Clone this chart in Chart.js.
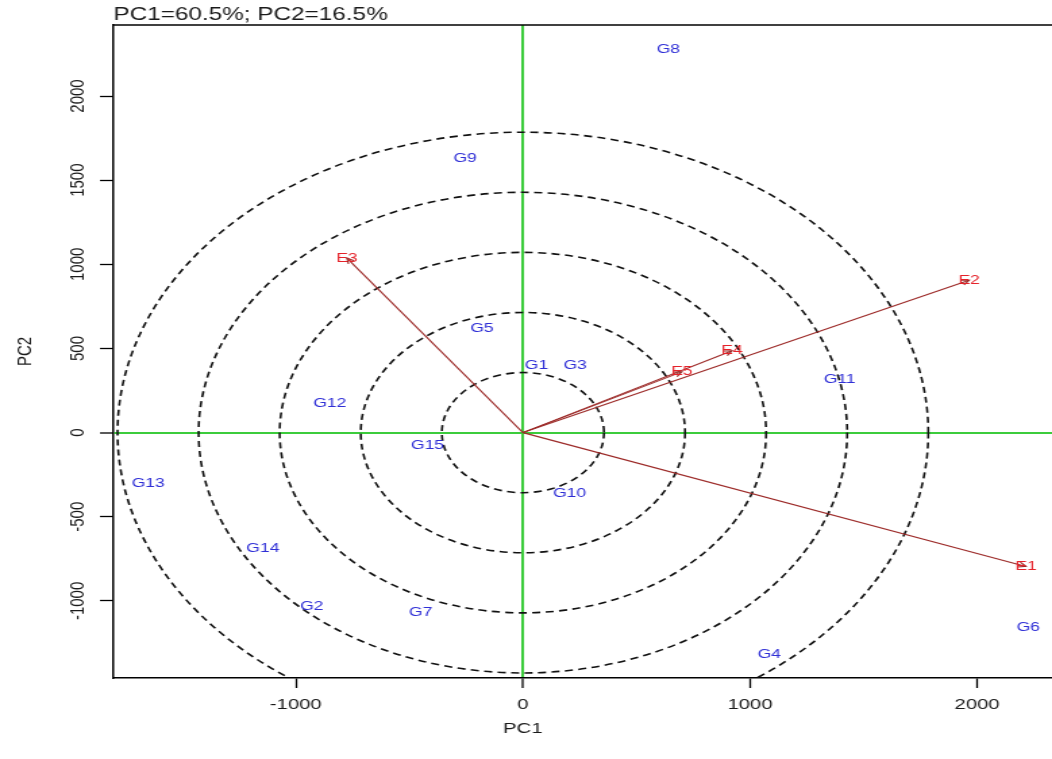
<!DOCTYPE html>
<html><head><meta charset="utf-8">
<script src="https://cdn.jsdelivr.net/npm/chart.js@4.4.0/dist/chart.umd.min.js"></script>
<style>
html,body{margin:0;padding:0;background:#fff;overflow:hidden}
#wrap{width:1052px;height:759px;overflow:hidden;position:relative;background:#fff}
#c{position:absolute;left:0;top:0;transform-origin:0 0;transform:scaleX(1.3505)}
</style></head><body>
<div id="wrap"><canvas id="c" width="779" height="759"></canvas></div>
<script>
// ---- data ----
const chartTitle = 'PC1=60.5%; PC2=16.5%';
const xAxisTitle = 'PC1';
const yAxisTitle = 'PC2';
const genotypes = ['G1','G2','G3','G4','G5','G6','G7','G8','G9','G10','G11','G12','G13','G14','G15'];
const genoPC1 = [60, -930, 230, 1085, -180, 2225, -450, 640, -255, 205, 1395, -850, -1650, -1145, -420];
const genoPC2 = [400, -1030, 400, -1320, 620, -1155, -1070, 2275, 1630, -360, 315, 175, -300, -690, -75];
const environments = ['E1','E2','E3','E4','E5'];
const envPC1 = [2215, 1965, -775, 921, 700];
const envPC2 = [-795, 905, 1037, 486, 361];
const circleRadii = [357, 714, 1071, 1428, 1785];
const xTicks = [-1000, 0, 1000, 2000];
const yTicks = [-1000, -500, 0, 500, 1000, 1500, 2000];

const FONT = "'Liberation Sans', Arial, sans-serif";
const GREEN = '#3ccc3c';
const BLUE = '#2f2fd6';
const RED = '#e5222a';
const BROWN = '#9c2a28';

const datasets = [{
  kind: 'geno',
  data: genotypes.map((g, i) => ({x: genoPC1[i], y: genoPC2[i]})),
  pointRadius: 0, showLine: false
}];
environments.forEach((e, i) => {
  datasets.push({
    kind: 'env', name: e,
    data: [{x: 0, y: 0}, {x: envPC1[i], y: envPC2[i]}],
    showLine: true, borderColor: BROWN, borderWidth: 1.1, pointRadius: 0
  });
});

const decor = {
  id: 'decor',
  beforeDatasetsDraw(chart) {
    const {ctx, chartArea: a, scales: {x, y}} = chart;
    ctx.save();
    ctx.beginPath();
    ctx.rect(a.left, a.top, a.right - a.left, a.bottom - a.top);
    ctx.clip();
    const cx = x.getPixelForValue(0), cy = y.getPixelForValue(0);
    ctx.setLineDash([6, 4]);
    ctx.lineWidth = 1.6;
    ctx.strokeStyle = '#111';
    circleRadii.forEach(r => {
      const rx = x.getPixelForValue(r) - cx;
      const ry = cy - y.getPixelForValue(r);
      ctx.beginPath();
      ctx.ellipse(cx, cy, rx, ry, 0, 0, Math.PI * 2);
      ctx.stroke();
    });
    ctx.restore();
    ctx.save();
    ctx.strokeStyle = '#000';
    ctx.lineWidth = 1.5;
    ctx.beginPath();
    ctx.moveTo(a.left, a.top);
    ctx.lineTo(chart.width, a.top);
    ctx.stroke();
    ctx.restore();
  },
  afterDatasetsDraw(chart) {
    const ctx = chart.ctx;
    ctx.save();
    ctx.font = '13px ' + FONT;
    ctx.textAlign = 'center';
    ctx.textBaseline = 'middle';
    chart.data.datasets.forEach((ds, i) => {
      const pts = chart.getDatasetMeta(i).data;
      if (ds.kind === 'geno') {
        ctx.fillStyle = BLUE;
        pts.forEach((p, j) => ctx.fillText(genotypes[j], p.x, p.y));
      } else {
        const p0 = pts[0], p1 = pts[1];
        const ang = Math.atan2(p1.y - p0.y, p1.x - p0.x);
        const L = 6;
        ctx.strokeStyle = BROWN;
        ctx.lineWidth = 1.1;
        ctx.beginPath();
        ctx.moveTo(p1.x - L * Math.cos(ang - 0.45), p1.y - L * Math.sin(ang - 0.45));
        ctx.lineTo(p1.x, p1.y);
        ctx.lineTo(p1.x - L * Math.cos(ang + 0.45), p1.y - L * Math.sin(ang + 0.45));
        ctx.stroke();
        ctx.fillStyle = RED;
        ctx.fillText(ds.name, p1.x, p1.y);
      }
    });
    ctx.restore();
  },
  afterDraw(chart) {
    const {ctx, chartArea: a, scales: {x}} = chart;
    ctx.save();
    ctx.fillStyle = '#1a1a1a';
    ctx.font = '18px ' + FONT;
    ctx.textAlign = 'left';
    ctx.textBaseline = 'alphabetic';
    ctx.fillText(chartTitle, a.left, 20);
    ctx.font = '15px ' + FONT;
    ctx.textAlign = 'center';
    ctx.textBaseline = 'middle';
    ctx.fillText(xAxisTitle, x.getPixelForValue(0), 729);
    ctx.restore();
  }
};

const gridColor = c => (c.tick && c.tick.value === 0) ? GREEN : 'rgba(0,0,0,0)';
const gridWidth = c => (c.tick && c.tick.value === 0) ? 2 : 1;

new Chart(document.getElementById('c'), {
  type: 'scatter',
  data: {datasets},
  options: {
    responsive: false,
    animation: false,
    devicePixelRatio: 1,
    layout: {padding: {top: 25, left: 0, right: 0, bottom: 0}},
    plugins: {legend: {display: false}, tooltip: {enabled: false}, title: {display: false}},
    scales: {
      x: {
        type: 'linear', position: 'bottom', min: -1803, max: 2330,
        afterBuildTicks: s => { s.ticks = xTicks.map(v => ({value: v})); },
        afterFit: s => { s.height = 81; },
        grid: {drawOnChartArea: true, color: gridColor, lineWidth: gridWidth,
               tickColor: '#000', tickLength: 10, tickWidth: 1.3},
        border: {display: true, color: '#000', width: 1.5},
        ticks: {autoSkip: false, maxRotation: 0, padding: 8, color: '#1a1a1a',
                font: {family: FONT, size: 15}, callback: v => String(v)}
      },
      y: {
        type: 'linear', position: 'left', min: -1458, max: 2422,
        afterBuildTicks: s => { s.ticks = yTicks.map(v => ({value: v})); },
        afterFit: s => { s.width = 84; },
        grid: {drawOnChartArea: true, color: gridColor, lineWidth: gridWidth,
               tickColor: '#000', tickLength: 10, tickWidth: 1.3},
        border: {display: true, color: '#000', width: 1.5},
        ticks: {autoSkip: false, minRotation: 90, maxRotation: 90, crossAlign: 'center',
                padding: -3, color: '#1a1a1a', font: {family: FONT, size: 15}, callback: v => String(v)},
        title: {display: true, text: yAxisTitle, color: '#1a1a1a',
                font: {family: FONT, size: 15}, padding: {top: 10, bottom: 0}}
      }
    }
  },
  plugins: [decor]
});
</script>
</body></html>
